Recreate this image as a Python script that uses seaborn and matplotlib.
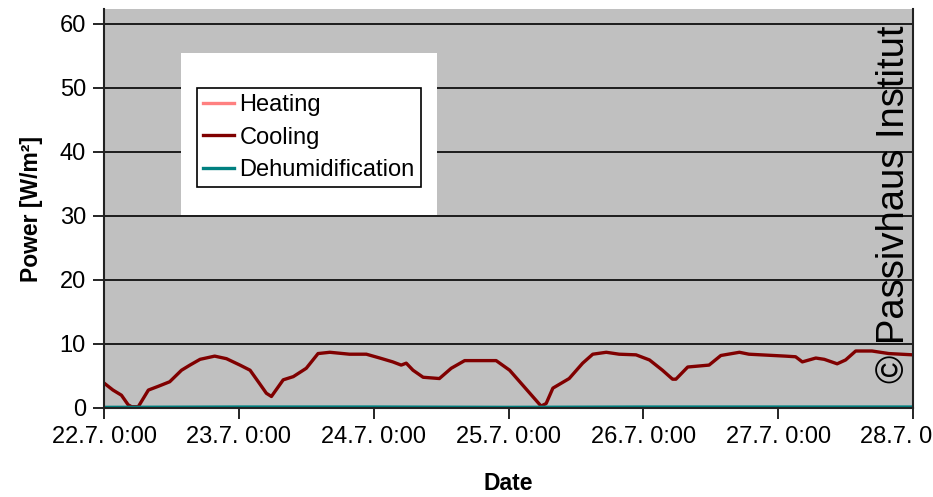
import pandas as pd
import seaborn as sns
import matplotlib.pyplot as plt
from matplotlib.patches import Rectangle

# hours after 22.7. 0:00
cooling_hours = [0, 1.6, 3.1, 4.3, 4.9, 6.1, 7.9, 9.7, 11.7, 13.8, 15.3, 17.1, 19.7, 21.8,
                 24.2, 26.0, 27.7, 28.9, 29.8, 31.9, 33.7, 36.0, 38.1, 40.2, 43.7, 46.7,
                 49.1, 51.4, 52.9, 53.8, 55.0, 56.8, 59.7, 61.8, 64.2, 69.8, 72.2, 74.5,
                 76.3, 77.8, 78.7, 79.9, 82.8, 85.2, 87.0, 89.4, 91.7, 94.7, 97.1, 99.4,
                 101.2, 101.8, 103.9, 107.7, 109.8, 113.1, 114.8, 121.3, 123.1, 124.3,
                 126.7, 128.2, 130.5, 132.0, 133.8, 136.7, 139.7, 144.0]
cooling_vals = [3.9, 2.8, 2.0, 0.5, 0.2, 0.2, 2.8, 3.4, 4.1, 5.9, 6.7, 7.6, 8.1, 7.7,
                6.7, 5.9, 3.8, 2.3, 1.8, 4.4, 4.9, 6.2, 8.5, 8.7, 8.4, 8.4,
                7.8, 7.2, 6.7, 7.0, 5.9, 4.8, 4.6, 6.2, 7.4, 7.4, 5.9, 3.6,
                1.8, 0.3, 0.7, 3.1, 4.6, 7.0, 8.4, 8.7, 8.4, 8.3, 7.5, 5.9,
                4.5, 4.5, 6.4, 6.7, 8.2, 8.7, 8.4, 8.1, 8.0, 7.2,
                7.8, 7.6, 6.9, 7.5, 8.9, 8.9, 8.5, 8.3]
dehum_hours = [0, 24, 48, 72, 96, 120, 144]
dehum_vals = [0.1, 0.15, 0.15, 0.1, 0.15, 0.15, 0.15]
heating_hours = [0, 144]
heating_vals = [0, 0]
tick_days = [0, 1, 2, 3, 4, 5, 6]
tick_labels = ["22.7. 0:00", "23.7. 0:00", "24.7. 0:00", "25.7. 0:00",
               "26.7. 0:00", "27.7. 0:00", "28.7. 0:00"]

start = pd.Timestamp("2009-07-22")
frames = []
for name, hrs, vals in [("Heating", heating_hours, heating_vals),
                        ("Cooling", cooling_hours, cooling_vals),
                        ("Dehumidification", dehum_hours, dehum_vals)]:
    frames.append(pd.DataFrame({"date": start + pd.to_timedelta(hrs, unit="h"),
                                "power": vals, "series": name}))
df = pd.concat(frames, ignore_index=True)

plt.rcParams["font.family"] = ["Liberation Sans", "DejaVu Sans"]
palette = {"Heating": "#FF8080", "Cooling": "#800000", "Dehumidification": "#008080"}

fig = plt.figure(figsize=(9.33, 4.97), dpi=100)
ax = fig.add_axes([104 / 933, 89 / 497, 809 / 933, 399 / 497])
ax.set_facecolor("#C0C0C0")
ax.set_axisbelow(True)
ax.yaxis.grid(True, color="black", linewidth=1.2)

sns.lineplot(data=df, x="date", y="power", hue="series", palette=palette,
             linewidth=2.4, ax=ax, estimator=None, sort=False)

ax.set_xlim(start, start + pd.Timedelta(days=6))
ax.set_ylim(0, 62.3)
ax.set_yticks(range(0, 61, 10))
ax.set_xticks([start + pd.Timedelta(days=d) for d in tick_days])
ax.set_xticklabels(tick_labels)
ax.tick_params(axis="both", labelsize=17, length=8, width=1.2, direction="out", pad=5)
for s in ["left", "bottom", "right"]:
    ax.spines[s].set_color("#222222")
    ax.spines[s].set_linewidth(1.5)
ax.spines["top"].set_visible(False)

ax.set_xlabel("Date", fontsize=16.5, fontweight="bold", labelpad=17)
ax.set_ylabel("Power [W/m²]", fontsize=16.5, fontweight="bold", labelpad=12)

ax.add_patch(Rectangle((0.095, 0.484), 0.317, 0.406, transform=ax.transAxes,
                       facecolor="white", edgecolor="none", zorder=3))
handles, labels = ax.get_legend_handles_labels()
leg = ax.legend(handles, labels, loc="upper left", bbox_to_anchor=(0.115, 0.802),
                borderaxespad=0, fontsize=17, frameon=True, fancybox=False,
                edgecolor="black", framealpha=1, handlelength=1.3, handletextpad=0.25,
                labelspacing=0.45, borderpad=0.25)
leg.get_frame().set_linewidth(1.2)
leg.set_zorder(4)

ax.text(0.976, 0.51, "© Passivhaus Institut", transform=ax.transAxes, rotation=90,
        fontsize=27.5, ha="center", va="center", zorder=5)

fig.savefig("out.png", dpi=100)
